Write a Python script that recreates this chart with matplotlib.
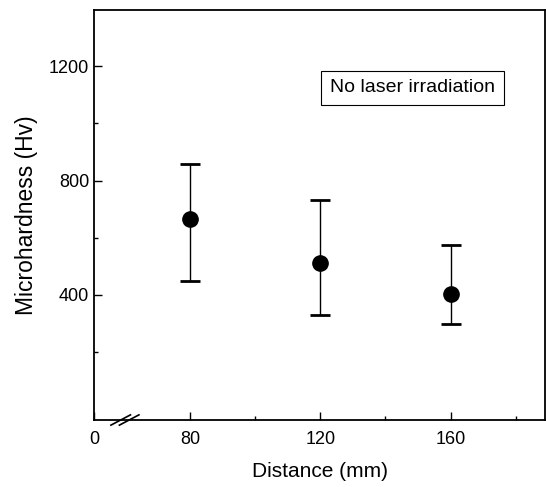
import numpy as np
import matplotlib
matplotlib.use("Agg")
import matplotlib.pyplot as plt

plt.rcParams['font.family'] = ['Liberation Sans', 'DejaVu Sans']

# data
distance = [80, 120, 160]
hardness = [665, 511, 403]
err_high = [857, 732, 576]
err_low = [447, 330, 298]

xmin, xmax = 50.5, 189
ymin, ymax = -38, 1397

lower = np.array(hardness) - np.array(err_low)
upper = np.array(err_high) - np.array(hardness)

fig = plt.figure(figsize=(5.46, 4.87), dpi=100)
ax = fig.add_axes([94 / 546, 67 / 487, 451 / 546, 410 / 487])

ax.errorbar(distance, hardness, yerr=[lower, upper], fmt='o', color='black',
            ms=11, elinewidth=1.0, capsize=7, capthick=2)

ax.set_xlim(xmin, xmax)
ax.set_ylim(ymin, ymax)
ax.set_xticks([xmin, 80, 120, 160])
ax.set_xticklabels(['0', '80', '120', '160'])
ax.set_xticks([100, 140, 180], minor=True)
ax.set_yticks([400, 800, 1200])
ax.set_yticks([200, 600, 1000], minor=True)
ax.tick_params(which='both', direction='in', labelsize=13, width=1)
ax.tick_params(which='major', length=6)
ax.tick_params(which='minor', length=3)
ax.tick_params(axis='x', pad=8)
for s in ax.spines.values():
    s.set_linewidth(1.3)

# axis break marks
bx = 60
for dx in (-1.3, 1.3):
    ax.plot([bx + dx - 3, bx + dx + 3], [ymin - 18, ymin + 18], color='black',
            lw=1.2, clip_on=False)

ax.set_xlabel('Distance (mm)', fontsize=15, labelpad=10)
ax.set_ylabel('Microhardness (Hv)', fontsize=16.5, labelpad=8)

ax.text(0.523, 0.81, 'No laser irradiation', transform=ax.transAxes,
        fontsize=14, va='center', ha='left',
        bbox=dict(boxstyle='square,pad=0.45', fc='white', ec='black', lw=0.8))

fig.savefig('out.png', dpi=100)
